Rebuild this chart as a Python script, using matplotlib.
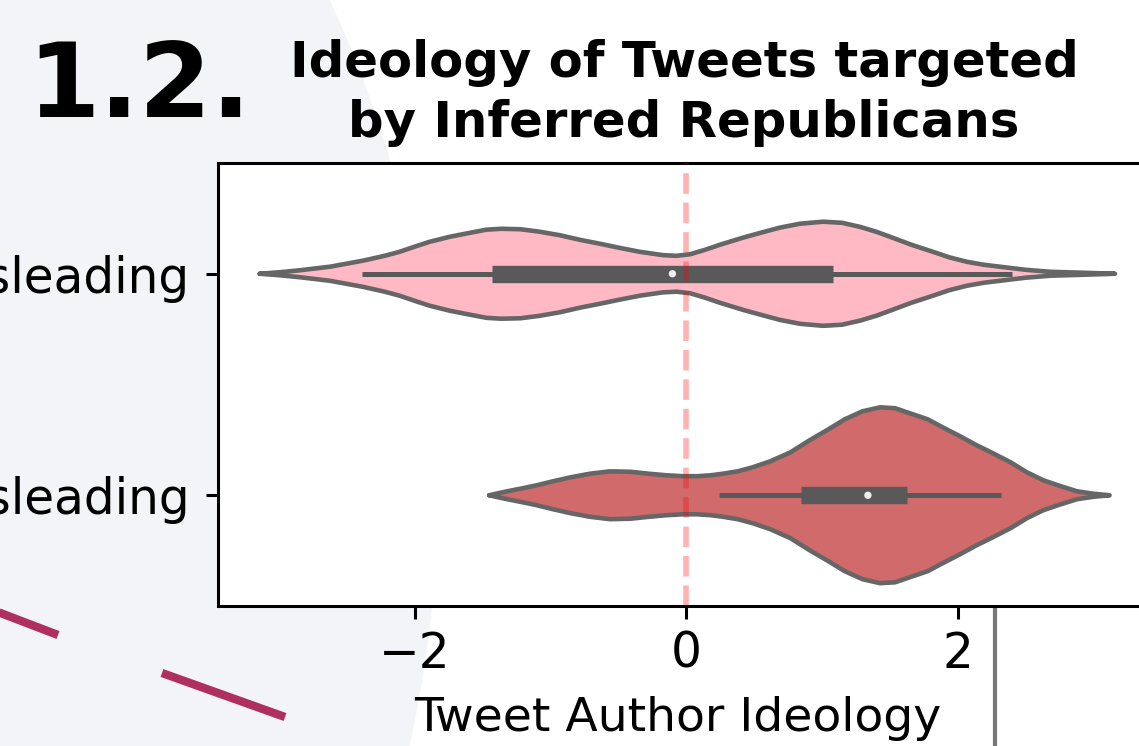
import numpy as np
import matplotlib.pyplot as plt
from matplotlib.patches import Ellipse

# Violin outlines: ideology positions and half-widths (in category units)
categories = ["Not Misleading", "Misleading"]

not_mis_x = [-3.14, -2.99, -2.84, -2.62, -2.38, -2.22, -2.11, -2.00, -1.89, -1.74,
             -1.59, -1.47, -1.36, -1.22, -1.08, -0.93, -0.78, -0.63, -0.49, -0.34,
             -0.17, -0.07, 0.03, 0.14, 0.25, 0.42, 0.55, 0.69, 0.84, 1.01,
             1.15, 1.28, 1.40, 1.52, 1.66, 1.82, 1.94, 2.07, 2.19, 2.31,
             2.50, 2.68, 2.90, 3.16]
not_mis_w = [0.0, 0.007, 0.016, 0.032, 0.059, 0.081, 0.099, 0.122, 0.144, 0.167,
             0.185, 0.199, 0.203, 0.201, 0.190, 0.174, 0.153, 0.135, 0.117, 0.099,
             0.084, 0.081, 0.088, 0.108, 0.131, 0.163, 0.185, 0.208, 0.226, 0.235,
             0.230, 0.212, 0.190, 0.163, 0.131, 0.099, 0.074, 0.054, 0.041, 0.032,
             0.018, 0.009, 0.005, 0.0]

mis_x = [-1.45, -1.37, -1.30, -1.20, -1.10, -0.98, -0.85, -0.71, -0.56, -0.41,
         -0.27, -0.14, -0.02, 0.08, 0.18, 0.27, 0.38, 0.49, 0.62, 0.77,
         0.91, 1.05, 1.17, 1.30, 1.43, 1.54, 1.65, 1.78, 1.89, 2.02,
         2.14, 2.26, 2.39, 2.51, 2.63, 2.76, 2.88, 3.00, 3.12]
mis_w = [0.0, 0.011, 0.020, 0.032, 0.045, 0.063, 0.081, 0.097, 0.108, 0.106,
         0.097, 0.090, 0.086, 0.086, 0.090, 0.097, 0.108, 0.126, 0.153, 0.194,
         0.248, 0.298, 0.343, 0.379, 0.397, 0.393, 0.370, 0.343, 0.307, 0.266,
         0.226, 0.190, 0.149, 0.104, 0.068, 0.041, 0.018, 0.007, 0.0]

# Box stats: whisker low, q1, median, q3, whisker high
not_mis_box = [-2.39, -1.43, -0.10, 1.08, 2.40]
mis_box = [0.24, 0.85, 1.34, 1.63, 2.32]

profiles = [(not_mis_x, not_mis_w, not_mis_box, "#FFB9C4"),
            (mis_x, mis_w, mis_box, "#D16A6A")]

W, H = 1139, 746
fig = plt.figure(figsize=(W / 100, H / 100), dpi=100)
fig.patch.set_facecolor("white")

# slide background layer in pixel coordinates
bg = fig.add_axes([0, 0, 1, 1], zorder=0)
bg.set_xlim(0, W)
bg.set_ylim(H, 0)
bg.axis("off")
bg.add_patch(Ellipse((-724, 490), 2 * 1162, 2 * 1162, color="#F3F4F8", lw=0))
bg.plot([-10, 58], [609, 635], color="#AF2F5E", lw=6, solid_capstyle="butt")
bg.plot([162, 285], [673, 717], color="#AF2F5E", lw=6, solid_capstyle="butt")
bg.plot([995, 995], [607, H + 5], color="#777777", lw=3, solid_capstyle="butt")
bg.text(27, 117, "1.2.", fontsize=75, fontweight="bold", va="baseline", ha="left")

ax = fig.add_axes([218 / W, 1 - 606 / H, (1150 - 218) / W, (606 - 163) / H], zorder=1)
ax.set_facecolor("white")

for i, (xs, ws, box, col) in enumerate(profiles):
    xs = np.array(xs)
    ws = np.array(ws)
    ax.fill_between(xs, i - ws, i + ws, facecolor=col, edgecolor="none", zorder=2)
    ax.plot(np.r_[xs, xs[::-1], xs[:1]], np.r_[i - ws, (i + ws)[::-1], [i]],
            color="#666666", lw=3.3, solid_joinstyle="round", solid_capstyle="round", zorder=3)
    lo, q1, med, q3, hi = box
    ax.plot([lo, hi], [i, i], color="#595959", lw=3.6, solid_capstyle="butt", zorder=4)
    ax.plot([q1, q3], [i, i], color="#595959", lw=12.5, solid_capstyle="butt", zorder=4)
    ax.scatter([med], [i], s=28, color="#EEEEEE", edgecolor="none", zorder=5)

ax.axvline(0, color="red", alpha=0.3, linestyle="--", lw=4, zorder=6)

ax.set_xlim((218 - 686) / 135.75, (1150 - 686) / 135.75)
ax.set_ylim(1.5, -0.5)
ax.set_yticks([0, 1])
ax.set_yticklabels(categories)
ax.set_xticks([-2, 0, 2])
ax.set_xticklabels(["\u22122", "0", "2"])
ax.tick_params(labelsize=35, length=9, width=2.2)
ax.tick_params(axis="x", pad=8)
ax.tick_params(axis="y", pad=11.5)
for s in ax.spines.values():
    s.set_linewidth(2.2)
ax.set_xlabel("Tweet Author Ideology", fontsize=34, labelpad=13)
ax.xaxis.label.set_x(0.4935)
ax.set_title("Ideology of Tweets targeted\nby Inferred Republicans",
             fontsize=35.8, fontweight="bold", pad=19, linespacing=1.3)

fig.savefig("out.png", dpi=100)
